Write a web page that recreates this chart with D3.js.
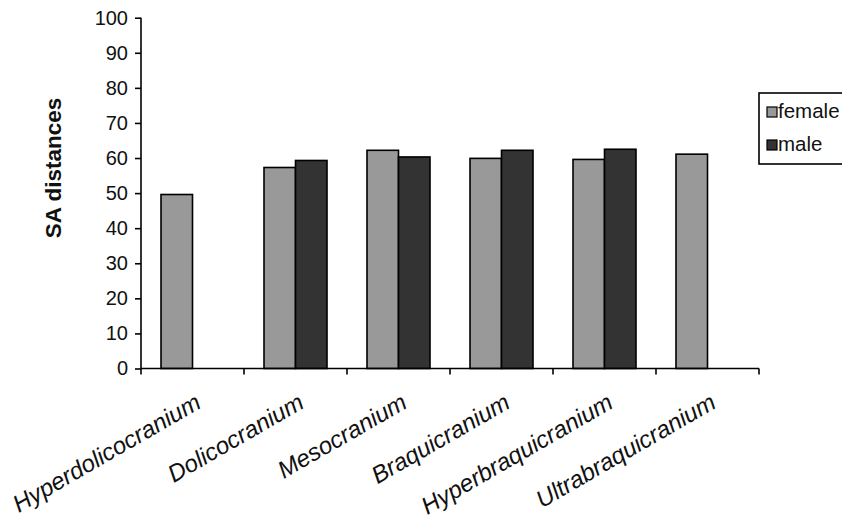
<!DOCTYPE html>
<html>
<head>
<meta charset="utf-8">
<script src="https://cdn.jsdelivr.net/npm/d3@7"></script>
<style>
  html, body { margin: 0; padding: 0; background: #fff; }
  svg { display: block; font-family: "Liberation Sans", Arial, sans-serif; }
</style>
</head>
<body>
<svg id="chart" width="842" height="527"></svg>
<script>
// Cranial index categories and mean SA distances by sex
const categories = ["Hyperdolicocranium", "Dolicocranium", "Mesocranium", "Braquicranium", "Hyperbraquicranium", "Ultrabraquicranium"];
const series = ["female", "male"];
const femaleValues = [49.6, 57.3, 62.2, 59.9, 59.6, 61.1];
const maleValues = [null, 59.3, 60.3, 62.2, 62.5, null];
const yTicks = [0, 10, 20, 30, 40, 50, 60, 70, 80, 90, 100];
const yTitle = "SA distances";

const colors = { female: "#999999", male: "#333333" };

const svg = d3.select("#chart");
const plot = { left: 141, right: 759, top: 17.7, bottom: 368.5 };

const x0 = d3.scaleBand().domain(categories).range([plot.left, plot.right]).paddingInner(0).paddingOuter(0);
const x1 = d3.scaleBand().domain(series).range([0, x0.bandwidth()]).paddingInner(0).paddingOuter(0.635);
const y = d3.scaleLinear().domain([0, 100]).range([plot.bottom, plot.top]);

const rows = categories.map((c, i) => ({ category: c, female: femaleValues[i], male: maleValues[i] }));

// Bars
const groups = svg.append("g").selectAll("g").data(rows).join("g")
  .attr("transform", d => `translate(${x0(d.category)},0)`);
groups.selectAll("rect")
  .data(d => series.map(s => ({ key: s, value: d[s] })).filter(e => e.value != null))
  .join("rect")
  .attr("x", d => x1(d.key))
  .attr("y", d => y(d.value))
  .attr("width", x1.bandwidth())
  .attr("height", d => y(0) - y(d.value))
  .attr("fill", d => colors[d.key])
  .attr("stroke", "#000")
  .attr("stroke-width", 1.6);

// Y axis
const yAxis = d3.axisLeft(y).tickValues(yTicks).tickSize(6).tickPadding(7);
const gy = svg.append("g").attr("transform", `translate(${plot.left},0)`).call(yAxis);
gy.select(".domain").attr("stroke", "#000").attr("stroke-width", 1.6).attr("d", `M0,${plot.top}V${plot.bottom}`);
gy.selectAll(".tick line").attr("stroke", "#000").attr("stroke-width", 1.6);
gy.selectAll(".tick text").attr("font-size", 20).attr("fill", "#111").attr("font-family", "Liberation Sans, Arial, sans-serif");

// X axis with ticks at category boundaries
const gx = svg.append("g").attr("transform", `translate(0,${plot.bottom})`);
gx.append("line").attr("x1", plot.left).attr("x2", plot.right).attr("y1", 0).attr("y2", 0)
  .attr("stroke", "#000").attr("stroke-width", 1.6);
const boundaries = categories.map(c => x0(c)).concat([plot.right]);
gx.selectAll("line.tick").data(boundaries).join("line").attr("class", "tick")
  .attr("x1", d => d).attr("x2", d => d).attr("y1", 0).attr("y2", 6)
  .attr("stroke", "#000").attr("stroke-width", 1.6);

// Rotated category labels
svg.append("g").selectAll("text").data(categories).join("text")
  .attr("transform", c => `translate(${x0(c) + x0.bandwidth() / 2 + 10},407) rotate(-30)`)
  .attr("text-anchor", "end")
  .attr("font-size", 24)
  .attr("font-style", "italic")
  .attr("fill", "#111")
  .text(c => c);

// Y axis title
svg.append("text")
  .attr("transform", "translate(61,168) rotate(-90)")
  .attr("text-anchor", "middle")
  .attr("font-size", 22.5)
  .attr("font-weight", "bold")
  .attr("fill", "#111")
  .text(yTitle);

// Legend
const legend = svg.append("g");
legend.append("rect").attr("x", 759).attr("y", 93).attr("width", 100).attr("height", 71)
  .attr("fill", "#fff").attr("stroke", "#000").attr("stroke-width", 1.6);
const items = legend.selectAll("g").data(series).join("g")
  .attr("transform", (d, i) => `translate(767,${107 + i * 33})`);
items.append("rect").attr("width", 10).attr("height", 10)
  .attr("fill", d => colors[d]).attr("stroke", "#000").attr("stroke-width", 1.2);
items.append("text").attr("x", 11).attr("y", 11).attr("font-size", 20.5).attr("fill", "#111").text(d => d);
</script>
</body>
</html>
